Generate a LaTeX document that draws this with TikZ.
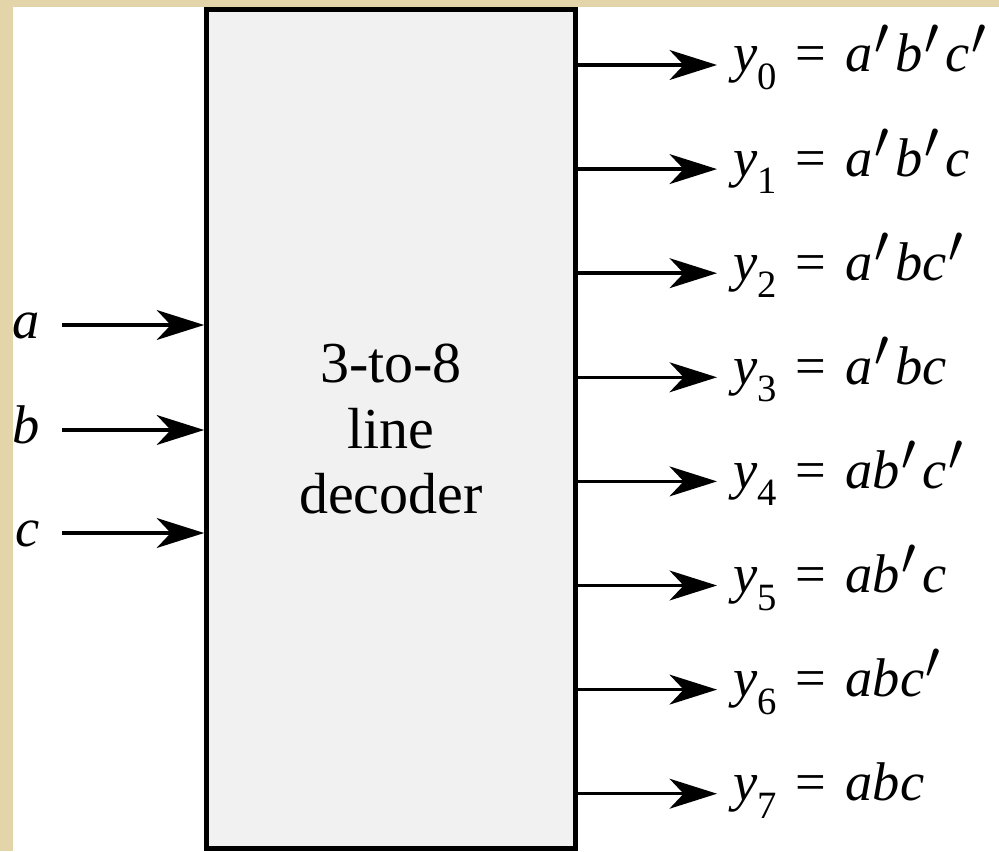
\documentclass[tikz,border=0pt]{standalone}
\usepackage{fontspec}
\setmainfont{Liberation Serif}
\usepackage{graphicx}
\usepackage{tikz}
\usetikzlibrary{
  arrows.meta,
  positioning,
  calc
}
\definecolor{parchment}{RGB}{228,212,170}
\definecolor{boxgray}{RGB}{241,241,241}
\newcommand{\ysub}[1]{\textit{y}\raisebox{-10pt}{\fontsize{22}{22}\selectfont #1}}
\newcommand{\pr}{\hspace{1pt}\raisebox{-3pt}{\scalebox{1.45}{$'$}}\hspace{3pt}}
\newcommand{\eqs}{\hspace{.35em}=\hspace{.35em}}

\begin{document}
\begin{tikzpicture}[
  x=0.02cm, y=-0.02cm,
  decbox/.style={draw=black, fill=boxgray, line width=3pt, minimum width=7.37cm, minimum height=16.79cm,
    align=center, font=\fontsize{33}{37.4}\selectfont},
  inlbl/.style={anchor=base east, inner xsep=12.5pt, inner ysep=0pt, font=\fontsize{31}{31}\selectfont},
  outlbl/.style={anchor=base west, inner xsep=9pt, inner ysep=0pt, font=\fontsize{31}{31}\selectfont},
  sig/.style={draw=black, line width=2pt, -{Stealth[length=27pt, width=17pt, inset=8pt]}}
]
  \fill[parchment] (0,0) rectangle (999,851);
  \fill[white] (13,7) rectangle (999,851);
  \useasboundingbox (0,0) rectangle (999,851);

  \node[decbox] (dec) at (391,429) {3-to-8\\line\\decoder};

  \foreach \n/\y in {a/325, b/430, c/533} {
    \node[inlbl] (\n) at (62,\y+13) {\textit{\n}};
    \draw[sig] (\n.east |- 0,\y) -- (dec.west |- 0,\y);
  }

  \foreach \i/\t in {
    0/{\textit{a}\pr\textit{b}\pr\textit{c}\pr},
    1/{\textit{a}\pr\textit{b}\pr\textit{c}},
    2/{\textit{a}\pr\textit{bc}\pr},
    3/{\textit{a}\pr\textit{bc}},
    4/{\textit{ab}\pr\textit{c}\pr},
    5/{\textit{ab}\pr\textit{c}},
    6/{\textit{abc}\pr},
    7/{\textit{abc}}} {
    \coordinate (o\i) at (dec.east |- 0,{65+104.1*\i});
    \node[outlbl] (y\i) at (717,{72+104.1*\i}) {\ysub{\i}\eqs\t};
    \draw[sig] (o\i) -- (o\i -| y\i.west);
  }
\end{tikzpicture}
\end{document}
